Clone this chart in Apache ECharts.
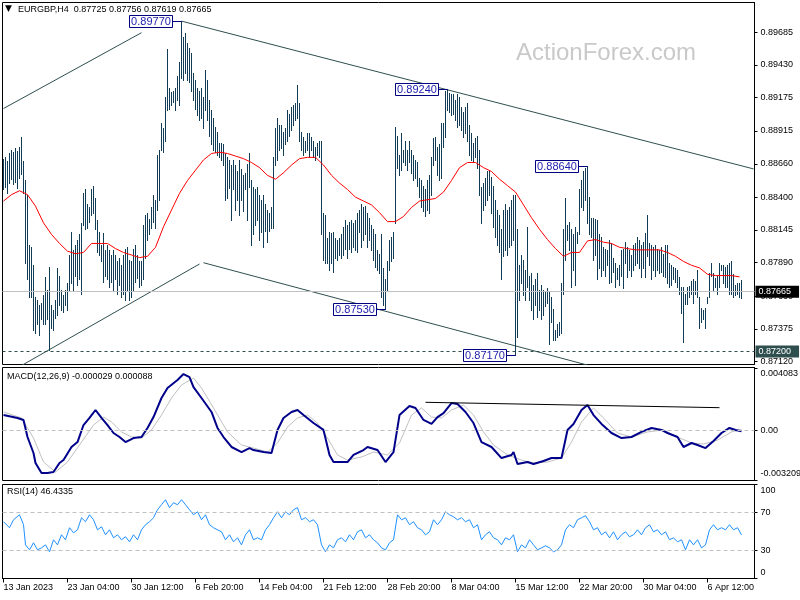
<!DOCTYPE html>
<html><head><meta charset="utf-8">
<script src="https://cdn.jsdelivr.net/npm/echarts@6/dist/echarts.min.js"></script>
<style>html,body{margin:0;padding:0;background:#fff}#c{width:800px;height:600px}</style>
</head><body><div id="c"></div>
<script>
// ---------------- DATA ----------------
const headerText = 'EURGBP,H4  0.87725 0.87756 0.87619 0.87665';
const macdHeader = 'MACD(12,26,9) -0.000029 0.000088';
const rsiHeader = 'RSI(14) 46.4335';
const watermark = 'ActionForex.com';

const timeLabels = ['13 Jan 2023','23 Jan 04:00','30 Jan 12:00','6 Feb 20:00','14 Feb 04:00','21 Feb 12:00','28 Feb 20:00','8 Mar 04:00','15 Mar 12:00','22 Mar 20:00','30 Mar 04:00','6 Apr 12:00'];
const labelStep = 32;      // bars between time labels
const slotCount = 376;     // bar slots incl. right shift

const highs = [
0.8870,0.8871,0.8868,0.8874,0.8877,0.8875,0.8878,0.8876,0.8879,0.8887,
0.8868,0.8853,0.8842,0.8803,0.8801,0.8787,0.8762,0.8760,0.8756,0.8758,
0.8764,0.8778,0.8768,0.8786,0.8756,0.8752,0.8760,0.8785,0.8779,0.8768,
0.8764,0.8768,0.8773,0.8795,0.8813,0.8799,0.8803,0.8807,0.8811,0.8820,
0.8843,0.8846,0.8835,0.8832,0.8846,0.8849,0.8839,0.8822,0.8813,0.8803,
0.8812,0.8799,0.8803,0.8799,0.8795,0.8799,0.8795,0.8790,0.8793,0.8787,
0.8795,0.8800,0.8801,0.8791,0.8790,0.8800,0.8803,0.8795,0.8790,0.8790,
0.8818,0.8826,0.8828,0.8823,0.8832,0.8842,0.8838,0.8873,0.8877,0.8898,
0.8894,0.8918,0.8955,0.8925,0.8922,0.8923,0.8925,0.8934,0.8945,0.8977,
0.8965,0.8968,0.8960,0.8956,0.8952,0.8937,0.8931,0.8925,0.8923,0.8925,
0.8918,0.8939,0.8931,0.8916,0.8908,0.8902,0.8895,0.8891,0.8882,0.8882,
0.8881,0.8874,0.8871,0.8869,0.8865,0.8869,0.8865,0.8860,0.8869,0.8862,
0.8857,0.8859,0.8866,0.8874,0.8853,0.8848,0.8846,0.8848,0.8842,0.8838,
0.8842,0.8835,0.8830,0.8828,0.8832,0.8871,0.8894,0.8902,0.8896,0.8896,
0.8891,0.8894,0.8908,0.8905,0.8910,0.8912,0.8913,0.8927,0.8913,0.8891,
0.8887,0.8884,0.8890,0.8890,0.8887,0.8884,0.8879,0.8882,0.8884,0.8884,
0.8828,0.8826,0.8808,0.8813,0.8812,0.8813,0.8808,0.8807,0.8808,0.8811,
0.8817,0.8822,0.8818,0.8821,0.8822,0.8820,0.8822,0.8828,0.8830,0.8835,
0.8832,0.8833,0.8828,0.8824,0.8818,0.8815,0.8811,0.8799,0.8796,0.8811,
0.8785,0.8776,0.8790,0.8807,0.8809,0.8813,0.8895,0.8888,0.8873,0.8890,
0.8877,0.8884,0.8877,0.8884,0.8877,0.8873,0.8869,0.8867,0.8855,0.8853,
0.8849,0.8846,0.8853,0.8857,0.8871,0.8886,0.8887,0.8879,0.8881,0.8898,
0.8898,0.8923,0.8924,0.8921,0.8920,0.8920,0.8916,0.8920,0.8918,0.8910,
0.8906,0.8910,0.8913,0.8896,0.8890,0.8882,0.8886,0.8888,0.8877,0.8848,
0.8851,0.8855,0.8860,0.8861,0.8856,0.8849,0.8838,0.8830,0.8826,0.8815,
0.8830,0.8835,0.8830,0.8832,0.8838,0.8842,0.8842,0.8815,0.8787,0.8795,
0.8791,0.8783,0.8817,0.8779,0.8781,0.8772,0.8776,0.8781,0.8768,0.8772,
0.8768,0.8766,0.8769,0.8766,0.8762,0.8753,0.8737,0.8741,0.8743,0.8773,
0.8815,0.8839,0.8818,0.8821,0.8815,0.8811,0.8817,0.8813,0.8846,0.8853,
0.8860,0.8863,0.8864,0.8840,0.8824,0.8824,0.8823,0.8822,0.8811,0.8809,
0.8801,0.8800,0.8799,0.8807,0.8804,0.8793,0.8789,0.8785,0.8787,0.8799,
0.8800,0.8805,0.8801,0.8799,0.8795,0.8803,0.8804,0.8809,0.8807,0.8803,
0.8805,0.8812,0.8826,0.8804,0.8803,0.8801,0.8803,0.8800,0.8799,0.8801,
0.8796,0.8803,0.8803,0.8789,0.8787,0.8786,0.8785,0.8783,0.8778,0.8770,
0.8770,0.8765,0.8770,0.8771,0.8775,0.8776,0.8775,0.8783,0.8762,0.8754,
0.8752,0.8754,0.8762,0.8781,0.8789,0.8781,0.8777,0.8779,0.8789,0.8787,
0.8787,0.8786,0.8787,0.8789,0.8790,0.8780,0.8772,0.8773,0.8773,0.87756
];
const lows = [
0.8846,0.8848,0.8843,0.8851,0.8854,0.8850,0.8852,0.8847,0.8855,0.8858,
0.8843,0.8789,0.8776,0.8762,0.8762,0.8737,0.8734,0.8741,0.8733,0.8745,
0.8741,0.8741,0.8745,0.8721,0.8738,0.8737,0.8746,0.8748,0.8756,0.8752,
0.8751,0.8756,0.8752,0.8768,0.8773,0.8768,0.8779,0.8772,0.8776,0.8765,
0.8818,0.8815,0.8816,0.8821,0.8826,0.8828,0.8815,0.8797,0.8795,0.8790,
0.8774,0.8779,0.8776,0.8770,0.8774,0.8768,0.8776,0.8765,0.8772,0.8762,
0.8765,0.8760,0.8767,0.8760,0.8762,0.8768,0.8774,0.8777,0.8770,0.8772,
0.8776,0.8793,0.8807,0.8811,0.8816,0.8821,0.8816,0.8830,0.8838,0.8877,
0.8875,0.8884,0.8908,0.8909,0.8912,0.8914,0.8908,0.8916,0.8912,0.8933,
0.8931,0.8937,0.8931,0.8930,0.8923,0.8916,0.8909,0.8904,0.8900,0.8902,
0.8894,0.8908,0.8900,0.8888,0.8881,0.8877,0.8875,0.8873,0.8871,0.8869,
0.8865,0.8838,0.8839,0.8847,0.8822,0.8846,0.8830,0.8838,0.8826,0.8838,
0.8829,0.8846,0.8822,0.8848,0.8803,0.8811,0.8818,0.8822,0.8807,0.8813,
0.8801,0.8814,0.8805,0.8814,0.8816,0.8816,0.8865,0.8869,0.8877,0.8878,
0.8873,0.8881,0.8884,0.8888,0.8892,0.8896,0.8900,0.8902,0.8884,0.8877,
0.8873,0.8875,0.8877,0.8871,0.8877,0.8871,0.8869,0.8873,0.8871,0.8811,
0.8791,0.8789,0.8789,0.8783,0.8789,0.8782,0.8793,0.8791,0.8795,0.8793,
0.8795,0.8800,0.8793,0.8800,0.8797,0.8801,0.8799,0.8797,0.8813,0.8801,
0.8807,0.8811,0.8801,0.8807,0.8799,0.8791,0.8786,0.8783,0.8781,0.8762,
0.8756,0.8753,0.8768,0.8783,0.8790,0.8793,0.8820,0.8863,0.8857,0.8861,
0.8867,0.8865,0.8861,0.8867,0.8859,0.8853,0.8855,0.8849,0.8840,0.8832,
0.8829,0.8825,0.8830,0.8828,0.8842,0.8865,0.8869,0.8857,0.8853,0.8855,
0.8879,0.8887,0.8908,0.8906,0.8904,0.8905,0.8900,0.8895,0.8896,0.8892,
0.8887,0.8890,0.8884,0.8873,0.8869,0.8867,0.8871,0.8863,0.8842,0.8820,
0.8830,0.8834,0.8838,0.8842,0.8828,0.8817,0.8809,0.8803,0.8797,0.8776,
0.8794,0.8799,0.8795,0.8801,0.8803,0.8807,0.8717,0.8731,0.8760,0.8773,
0.8764,0.8760,0.8770,0.8760,0.8752,0.8745,0.8756,0.8747,0.8752,0.8745,
0.8748,0.8755,0.8758,0.8726,0.8743,0.8729,0.8729,0.8731,0.8733,0.8734,
0.8765,0.8791,0.8807,0.8799,0.8770,0.8783,0.8772,0.8804,0.8811,0.8832,
0.8830,0.8838,0.8820,0.8811,0.8809,0.8791,0.8795,0.8776,0.8785,0.8779,
0.8783,0.8779,0.8787,0.8773,0.8774,0.8782,0.8770,0.8776,0.8772,0.8779,
0.8769,0.8789,0.8778,0.8783,0.8779,0.8783,0.8787,0.8789,0.8785,0.8778,
0.8785,0.8778,0.8794,0.8787,0.8776,0.8783,0.8779,0.8783,0.8781,0.8782,
0.8779,0.8778,0.8773,0.8770,0.8772,0.8776,0.8774,0.8770,0.8765,0.8750,
0.8727,0.8757,0.8757,0.8762,0.8765,0.8758,0.8765,0.8762,0.8738,0.8743,
0.8745,0.8738,0.8758,0.8762,0.8779,0.8768,0.8770,0.8765,0.8770,0.8783,
0.8773,0.8770,0.8770,0.8765,0.8765,0.8762,0.8764,0.8765,0.8762,0.87619
];

// moving average, one reading every maStep bars
const maStep = 4;
const maValues = [
0.8837,0.8842,0.8845,0.8842,0.8833,0.8820,0.8811,0.8804,0.8798,0.8796,
0.8797,0.8804,0.8804,0.8804,0.8800,0.8797,0.8795,0.8793,0.8794,0.8801,
0.8817,0.8830,0.8843,0.8853,0.8861,0.8869,0.8874,0.8875,0.8874,0.8872,
0.8870,0.8867,0.8863,0.8857,0.8854,0.8859,0.8865,0.8870,0.8871,0.8871,
0.8865,0.8857,0.8851,0.8846,0.8840,0.8837,0.8834,0.8828,0.8821,0.8821,
0.8825,0.8832,0.8837,0.8838,0.8839,0.8844,0.8853,0.8863,0.8867,0.8867,
0.8863,0.8860,0.8854,0.8849,0.8844,0.8834,0.8824,0.8815,0.8807,0.8800,
0.8794,0.8797,0.8797,0.8806,0.8807,0.8805,0.8804,0.8801,0.8800,0.8799,
0.8799,0.8799,0.8799,0.8797,0.8794,0.8790,0.8787,0.8785,0.8780,0.8779,
0.8779,0.8779,0.8778
];

const macdMain = [[0,0.00102],[7,0.00083],[10,0.00070],[12,-0.00041],[15,-0.00145],[16,-0.00210],[19,-0.00275],[22,-0.00275],[25,-0.00269],[28,-0.00210],[30,-0.00191],[34,-0.00106],[37,-0.00074],[40,0.00037],[43,0.00083],[46,0.00135],[49,0.00083],[52,0.00037],[55,-0.00015],[58,-0.00041],[61,-0.00074],[65,-0.00048],[69,-0.00041],[72,0.00018],[75,0.00089],[79,0.00213],[82,0.00278],[87,0.00330],[90,0.00369],[93,0.00349],[95,0.00284],[99,0.00213],[104,0.00122],[107,0.00018],[110,-0.00041],[114,-0.00106],[119,-0.00139],[123,-0.00113],[125,-0.00126],[130,-0.00139],[134,-0.00145],[137,0.00005],[140,0.00083],[144,0.00122],[147,0.00135],[150,0.00102],[155,0.00050],[160,0.00005],[163,-0.00158],[165,-0.00204],[172,-0.00204],[175,-0.00158],[180,-0.00126],[182,-0.00106],[187,-0.00126],[191,-0.00204],[195,-0.00139],[198,0.00102],[203,0.00161],[206,0.00148],[210,0.00070],[214,0.00044],[217,0.00089],[220,0.00115],[224,0.00180],[227,0.00174],[231,0.00122],[235,0.00050],[239,-0.00074],[244,-0.00106],[249,-0.00178],[254,-0.00158],[255,-0.00139],[257,-0.00217],[262,-0.00204],[265,-0.00217],[270,-0.00197],[274,-0.00178],[279,-0.00178],[282,0.00005],[285,0.00044],[289,0.00135],[292,0.00167],[295,0.00102],[299,0.00044],[304,-0.00015],[309,-0.00048],[314,-0.00041],[319,-0.00008],[324,0.00018],[329,0.00005],[332,-0.00015],[337,-0.00041],[340,-0.00106],[344,-0.00080],[347,-0.00093],[351,-0.00113],[355,-0.00067],[359,-0.00015],[363,0.00018],[366,0.00005],[369,-0.000029]];
const macdSignal = [[0,0.00122],[9,0.00083],[15,-0.00048],[20,-0.00204],[26,-0.00269],[32,-0.00204],[39,-0.00074],[45,0.00037],[50,0.00089],[54,0.00057],[59,-0.00008],[64,-0.00041],[69,-0.00048],[74,0.00005],[79,0.00102],[84,0.00213],[89,0.00298],[95,0.00343],[99,0.00278],[105,0.00148],[112,-0.00008],[119,-0.00093],[125,-0.00113],[132,-0.00139],[137,-0.00080],[142,0.00024],[147,0.00083],[152,0.00102],[157,0.00050],[162,-0.00048],[167,-0.00158],[172,-0.00191],[179,-0.00171],[185,-0.00139],[192,-0.00158],[198,-0.00080],[204,0.00102],[209,0.00148],[214,0.00089],[219,0.00083],[224,0.00135],[230,0.00167],[235,0.00102],[240,-0.00008],[245,-0.00093],[252,-0.00158],[259,-0.00191],[265,-0.00210],[272,-0.00204],[279,-0.00178],[284,-0.00074],[289,0.00057],[295,0.00148],[300,0.00083],[307,-0.00015],[314,-0.00041],[322,-0.00008],[330,0.00005],[337,-0.00041],[344,-0.00080],[350,-0.00087],[357,-0.00061],[364,-0.00008],[369,0.000088]];
const macdTrend = [[211,0.00185],[358,0.00150]];

const rsiPoints = [[0,60.4],[3,54.0],[5,62.5],[8,67.8],[10,57.2],[11,35.8],[13,30.5],[15,38.0],[17,30.5],[19,32.6],[21,35.8],[23,28.4],[25,41.2],[27,35.8],[29,46.5],[31,41.2],[33,54.0],[35,48.6],[37,51.8],[39,64.6],[41,60.4],[43,67.8],[45,62.5],[47,51.8],[49,55.0],[51,46.5],[53,51.8],[55,43.3],[57,46.5],[59,41.2],[61,44.4],[63,39.0],[65,46.5],[67,41.2],[69,51.8],[71,57.2],[73,60.4],[75,64.6],[77,73.2],[79,78.5],[81,83.8],[83,75.3],[85,80.6],[87,78.5],[89,83.8],[91,78.5],[93,73.2],[95,67.8],[97,71.0],[99,62.5],[101,67.8],[103,57.2],[105,54.0],[107,51.8],[109,49.7],[111,41.2],[113,46.5],[115,39.0],[117,43.3],[119,35.8],[121,46.5],[123,51.8],[125,41.2],[127,43.3],[129,41.2],[131,51.8],[133,57.2],[135,64.6],[137,71.0],[139,64.6],[141,71.0],[143,67.8],[145,73.2],[147,75.3],[149,62.5],[151,64.6],[153,60.4],[155,62.5],[157,57.2],[159,35.8],[161,28.4],[163,35.8],[165,32.6],[167,41.2],[169,43.3],[171,39.0],[173,46.5],[175,41.2],[177,49.7],[179,51.8],[181,43.3],[183,46.5],[185,41.2],[187,38.0],[189,32.6],[191,30.5],[193,38.0],[195,41.2],[197,67.8],[199,62.5],[201,64.6],[203,57.2],[205,60.4],[207,54.0],[209,51.8],[211,46.5],[213,49.7],[215,62.5],[217,57.2],[219,62.5],[221,71.0],[223,67.8],[225,65.7],[227,62.5],[229,64.6],[231,60.4],[233,62.5],[235,54.0],[237,57.2],[239,41.2],[241,46.5],[243,49.7],[245,43.3],[247,41.2],[249,35.8],[251,43.3],[253,41.2],[255,46.5],[257,28.4],[259,35.8],[261,32.6],[263,41.2],[265,35.8],[267,30.5],[269,32.6],[271,34.8],[273,32.6],[275,28.4],[277,30.5],[279,35.8],[281,51.8],[283,57.2],[285,54.0],[287,62.5],[289,64.6],[291,66.8],[293,60.4],[295,51.8],[297,54.0],[299,46.5],[301,49.7],[303,43.3],[305,49.7],[307,41.2],[309,46.5],[311,49.7],[313,44.4],[315,46.5],[317,51.8],[319,46.5],[321,54.0],[323,57.2],[325,49.7],[327,51.8],[329,46.5],[331,49.7],[333,41.2],[335,43.3],[337,39.0],[339,41.2],[341,30.5],[343,41.2],[345,35.8],[347,41.2],[349,32.6],[351,35.8],[353,51.8],[355,57.2],[357,51.8],[359,54.0],[361,51.8],[363,57.2],[365,51.8],[367,54.0],[369,46.4335]];

const priceTicks = [0.8712,0.87375,0.8763,0.8789,0.88145,0.884,0.8866,0.88915,0.89175,0.8943,0.89685];
const priceMin = 0.87098, priceMax = 0.89915;
const macdMin = -0.003242, macdMax = 0.004116;
const macdTicks = [0.004083, 0, -0.003209];
const rsiTicks = [100, 70, 30, 0];
const rsiLevels = [70, 30];
const lastPrice = 0.87665;
const supportLevel = 0.872;

// drawn trend lines: [barIndex, price] pairs
const trendLines = [
  [[0,0.8909],[69,0.8968]],
  [[0,0.8701],[98,0.8788]],
  [[89,0.8977],[375,0.8862]],
  [[100,0.8789],[300,0.8706]]
];
// swing high / low tags
const swingTags = [[89,0.8977],[222,0.8924],[292,0.8864],[191,0.8753],[256,0.8717]];

// ---------------- CHART ----------------
const FONT = 'Liberation Sans';
const barColor = '#123c56';
const chart = echarts.init(document.getElementById('c'), null, {renderer:'canvas', width:800, height:600});
const cats = Array.from({length: slotCount}, (_, i) =>
  (i % labelStep === 0 && i / labelStep < timeLabels.length) ? timeLabels[i / labelStep] : '');
const n = Math.min(highs.length, lows.length);
const barData = [];
for (let i = 0; i < n; i++) barData.push([i, highs[i], lows[i]]);
const maData = maValues.map((v, k) => [Math.min(k * maStep, n - 1), v]);

const hiddenX = (g) => ({type:'category', gridIndex:g, data:cats, boundaryGap:true,
  axisLine:{show:false}, axisTick:{show:false}, axisLabel:{show:false}, splitLine:{show:false}});
const lblStyle = {fontSize:9, color:'#000', fontFamily:FONT};

const option = {
  animation:false,
  textStyle:{fontFamily:FONT},
  grid:[
    {left:2.5, top:2.5, width:752, height:362, show:true, borderColor:'#000', borderWidth:1, backgroundColor:'#fff', outerBoundsMode:'none'},
    {left:2.5, top:367.5, width:752, height:113, show:true, borderColor:'#000', borderWidth:1, backgroundColor:'#fff', outerBoundsMode:'none'},
    {left:2.5, top:484.5, width:752, height:94, show:true, borderColor:'#000', borderWidth:1, backgroundColor:'#fff', outerBoundsMode:'none'}
  ],
  xAxis:[
    hiddenX(0), hiddenX(1),
    {type:'category', gridIndex:2, data:cats, boundaryGap:true,
     axisLine:{show:true, lineStyle:{color:'#000', width:1}},
     axisTick:{show:true, alignWithLabel:true, length:4, interval:(i, v) => v !== '', lineStyle:{color:'#000'}},
     axisLabel:Object.assign({show:true, interval:(i, v) => v !== '', align:'left', margin:5}, lblStyle),
     splitLine:{show:false}}
  ],
  yAxis:[
    {type:'value', gridIndex:0, position:'right', min:priceMin, max:priceMax, scale:true,
     splitLine:{show:false}, axisLine:{show:true, lineStyle:{color:'#000'}},
     axisTick:{show:true, length:3, customValues:priceTicks, lineStyle:{color:'#000'}},
     axisLabel:Object.assign({customValues:priceTicks, formatter:v => v.toFixed(5), margin:6}, lblStyle)},
    {type:'value', gridIndex:1, position:'right', min:macdMin, max:macdMax,
     splitLine:{show:false}, axisLine:{show:true, lineStyle:{color:'#000'}},
     axisTick:{show:true, length:3, customValues:macdTicks, lineStyle:{color:'#000'}},
     axisLabel:Object.assign({customValues:macdTicks, margin:6,
       formatter:v => v > 0 ? '{t|' + v.toFixed(6) + '}' : (v < 0 ? '{b|' + v.toFixed(6) + '}' : '0.00'),
       rich:{t:Object.assign({padding:[12,0,0,0]}, lblStyle), b:Object.assign({padding:[0,0,12,0]}, lblStyle)}}, lblStyle)},
    {type:'value', gridIndex:2, position:'right', min:0, max:100,
     splitLine:{show:false}, axisLine:{show:true, lineStyle:{color:'#000'}},
     axisTick:{show:true, length:3, customValues:rsiTicks, lineStyle:{color:'#000'}},
     axisLabel:Object.assign({customValues:rsiTicks, margin:6,
       formatter:v => v === 100 ? '{t|100}' : (v === 0 ? '{b|0}' : String(v)),
       rich:{t:Object.assign({padding:[12,0,0,0]}, lblStyle), b:Object.assign({padding:[0,0,12,0]}, lblStyle)}}, lblStyle)}
  ],
  series:[]
};

// trend lines on price panel
trendLines.forEach(seg => option.series.push({
  type:'line', xAxisIndex:0, yAxisIndex:0, data:seg, symbol:'none', silent:true, clip:true, z:2,
  lineStyle:{color:'#2f4f4f', width:1}
}));

// price bars
option.series.push({
  type:'custom', xAxisIndex:0, yAxisIndex:0, data:barData, silent:true, clip:true, z:3,
  encode:{x:0, y:[1,2]},
  renderItem:(params, api) => {
    const i = api.value(0);
    const a = api.coord([i, api.value(1)]);
    const b = api.coord([i, api.value(2)]);
    return {type:'line', shape:{x1:a[0], y1:Math.round(a[1]), x2:a[0], y2:Math.round(b[1]) + 1},
            style:{stroke:barColor, lineWidth:1}};
  }
});

// moving average + horizontal levels
option.series.push({
  type:'line', xAxisIndex:0, yAxisIndex:0, data:maData, symbol:'none', silent:true, z:4,
  lineStyle:{color:'#ff0000', width:1},
  markLine:{silent:true, symbol:['none','none'], animation:false, precision:5,
    data:[
      {yAxis:lastPrice, lineStyle:{color:'#c0c0c0', type:'solid', width:1},
       label:{show:true, position:'end', distance:1, formatter:() => lastPrice.toFixed(5),
              backgroundColor:'#000', color:'#fff', fontSize:9, fontFamily:FONT, padding:[2,8,1,3]}},
      {yAxis:supportLevel, lineStyle:{color:'#2f4f4f', type:[3,3], width:1},
       label:{show:true, position:'end', distance:1, formatter:() => supportLevel.toFixed(5),
              backgroundColor:'#2f4f4f', color:'#fff', fontSize:9, fontFamily:FONT, padding:[2,8,1,3]}}
    ]}
});

// MACD
option.series.push({
  type:'line', xAxisIndex:1, yAxisIndex:1, data:macdSignal, symbol:'none', silent:true, z:2,
  lineStyle:{color:'#c0c0c0', width:1},
  markLine:{silent:true, symbol:['none','none'], animation:false, precision:6, label:{show:false},
    data:[{yAxis:0}], lineStyle:{color:'#c0c0c0', type:[4,3], width:1}}
});
option.series.push({
  type:'line', xAxisIndex:1, yAxisIndex:1, data:macdMain, symbol:'none', silent:true, z:3,
  lineStyle:{color:'#00008b', width:2}
});
option.series.push({
  type:'line', xAxisIndex:1, yAxisIndex:1, data:macdTrend, symbol:'none', silent:true, z:4,
  lineStyle:{color:'#000', width:1}
});

// RSI
option.series.push({
  type:'line', xAxisIndex:2, yAxisIndex:2, data:rsiPoints, symbol:'none', silent:true, z:3,
  lineStyle:{color:'#1e90ff', width:1},
  markLine:{silent:true, symbol:['none','none'], animation:false, label:{show:false},
    data:rsiLevels.map(v => ({yAxis:v})), lineStyle:{color:'#c0c0c0', type:[4,3], width:1}}
});

chart.setOption(option);

// ---------------- overlays ----------------
const gfx = [];
const txt = (x, y, s, size, fill, fam) => gfx.push({type:'text', x:x, y:y, z:100, silent:true,
  style:{text:s, font:size + 'px "' + (fam || FONT) + '"', fill:fill, align:'left', verticalAlign:'top'}});
txt(5, 4, '\u25BC', 9, '#000', 'DejaVu Sans');
txt(18, 5, headerText, 9, '#000');
txt(7, 372, macdHeader, 9, '#000');
txt(7, 487, rsiHeader, 9, '#000');
txt(516, 41, watermark, 24, '#c9c9c9');

swingTags.forEach(([i, p]) => {
  const pt = chart.convertToPixel({xAxisIndex:0, yAxisIndex:0}, [i, p]);
  const px = pt[0], cy = Math.round(pt[1]) + 0.5;
  const right = px - 9;
  gfx.push({type:'line', z:100, silent:true, shape:{x1:right, y1:cy, x2:px, y2:cy}, style:{stroke:'#000080', lineWidth:1}});
  gfx.push({type:'rect', z:100, silent:true, shape:{x:right - 43, y:cy - 6, width:43, height:12},
            style:{fill:'#fff', stroke:'#000080', lineWidth:1}});
  gfx.push({type:'text', z:101, silent:true, x:right - 21.5, y:cy + 0.5,
            style:{text:p.toFixed(5), font:'11px "' + FONT + '"', fill:'#1c1cae', align:'center', verticalAlign:'middle'}});
});
chart.setOption({graphic:{elements:gfx}});
</script>
</body></html>
